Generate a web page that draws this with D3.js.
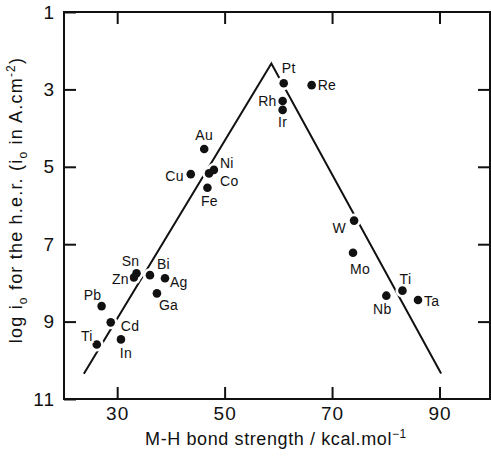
<!DOCTYPE html>
<html>
<head>
<meta charset="utf-8">
<script src="https://cdn.jsdelivr.net/npm/d3@7"></script>
<style>
  html, body { margin: 0; padding: 0; background: #fff; }
  svg { display: block; }
  text { font-family: "Liberation Sans", Arial, Helvetica, sans-serif; fill: #111; }
</style>
</head>
<body>
<svg id="chart" width="491" height="457"></svg>
<script>
// Exchange current density for hydrogen evolution vs. metal–hydrogen bond strength
const metals       = ["Pt", "Re", "Rh", "Ir", "Au", "Cu", "Ni", "Co", "Fe", "Sn", "Zn", "Bi", "Ag", "Ga", "Pb", "Cd", "Ti", "In", "W", "Mo", "Ti", "Nb", "Ta"];
const bondStrength = [61.0, 66.2, 60.8, 60.8, 46.2, 43.7, 48.0, 47.1, 46.8, 33.6, 33.1, 36.1, 38.9, 37.4, 27.1, 28.8, 26.2, 30.7, 74.1, 73.9, 83.1, 80.1, 86.0];
const logI0        = [2.84, 2.89, 3.30, 3.53, 4.54, 5.19, 5.08, 5.17, 5.54, 7.75, 7.86, 7.80, 7.88, 8.27, 8.60, 9.02, 9.59, 9.46, 6.39, 7.22, 8.20, 8.33, 8.44];

// Volcano trend line vertices
const volcanoX = [23.8, 58.7, 90.3];
const volcanoY = [10.35, 2.33, 10.34];

const xTicks = [30, 50, 70, 90];
const yTicks = [1, 3, 5, 7, 9, 11];

// Label placement per point: [anchor, dx, dy] relative to the dot centre
const labelPlacement = [
  ["middle", 5, -15], ["start", 6, 0], ["end", -6, 0], ["middle", 0, 12],
  ["middle", 0, -14], ["end", -7, 2], ["start", 6, -7], ["start", 11, 8],
  ["middle", 2, 13], ["middle", -6, -12], ["end", -5, 2], ["start", 7, -11],
  ["start", 5, 4], ["start", 2, 12], ["middle", -9, -11], ["start", 10, 4],
  ["end", -4, -8], ["middle", 5, 14], ["end", -8, 7], ["middle", 7, 16],
  ["middle", 3, -12], ["middle", -4, 13], ["start", 6, 1]
];

const svg = d3.select("#chart");
const frame = { left: 64, right: 490, top: 12, bottom: 399 };

const x = d3.scaleLinear().domain([20.1, 99.4]).range([frame.left, frame.right]);
const y = d3.scaleLinear().domain([1, 11]).range([frame.top, frame.bottom]);

const tickLen = 12;

// Bottom axis with labels, ticks pointing inward
const gx = svg.append("g")
  .attr("transform", `translate(0,${frame.bottom})`)
  .call(d3.axisBottom(x).tickValues(xTicks).tickSizeInner(-tickLen).tickSizeOuter(0).tickPadding(8));
// Left axis with labels
const gy = svg.append("g")
  .attr("transform", `translate(${frame.left},0)`)
  .call(d3.axisLeft(y).tickValues(yTicks).tickSizeInner(-tickLen).tickSizeOuter(0).tickPadding(9));
// Top and right ticks, no labels
const gt = svg.append("g")
  .attr("transform", `translate(0,${frame.top})`)
  .call(d3.axisTop(x).tickValues(xTicks).tickSizeInner(-tickLen).tickSizeOuter(0).tickFormat(""));
const gr = svg.append("g")
  .attr("transform", `translate(${frame.right},0)`)
  .call(d3.axisRight(y).tickValues(yTicks.slice(1, -1)).tickSizeInner(-tickLen).tickSizeOuter(0).tickFormat(""));

[gx, gy, gt, gr].forEach(g => {
  g.select(".domain").remove();
  g.selectAll(".tick line").attr("stroke", "#111").attr("stroke-width", 2);
  g.selectAll(".tick text")
    .attr("font-size", 19)
    .attr("letter-spacing", 1)
    .attr("fill", "#111")
    .style("font-family", "'Liberation Sans', Arial, sans-serif");
});

// Frame
svg.append("rect")
  .attr("x", frame.left).attr("y", frame.top)
  .attr("width", frame.right - frame.left).attr("height", frame.bottom - frame.top)
  .attr("fill", "none").attr("stroke", "#111").attr("stroke-width", 2);

// Volcano line
const volcano = volcanoX.map((v, i) => [v, volcanoY[i]]);
svg.append("path")
  .datum(volcano)
  .attr("d", d3.line().x(d => x(d[0])).y(d => y(d[1])))
  .attr("fill", "none")
  .attr("stroke", "#111")
  .attr("stroke-width", 2)
  .attr("stroke-linejoin", "miter");

const points = metals.map((m, i) => ({ name: m, x: bondStrength[i], y: logI0[i], place: labelPlacement[i] }));

// White halos first so that overlapping dots merge while the line is broken around them
svg.append("g").selectAll("circle")
  .data(points)
  .join("circle")
  .attr("cx", d => x(d.x))
  .attr("cy", d => y(d.y))
  .attr("r", 7)
  .attr("fill", "#fff");

svg.append("g").selectAll("circle")
  .data(points)
  .join("circle")
  .attr("cx", d => x(d.x))
  .attr("cy", d => y(d.y))
  .attr("r", 4.3)
  .attr("fill", "#111");

// Point labels
svg.append("g").selectAll("text")
  .data(points)
  .join("text")
  .attr("x", d => x(d.x) + d.place[1])
  .attr("y", d => y(d.y) + d.place[2])
  .attr("text-anchor", d => d.place[0])
  .attr("dominant-baseline", "central")
  .attr("font-size", 14)
  .attr("letter-spacing", 0.3)
  .attr("stroke", "#fff")
  .attr("stroke-width", 4)
  .attr("paint-order", "stroke")
  .text(d => d.name);

// X axis title
const xt = svg.append("text")
  .attr("x", 276)
  .attr("y", 445)
  .attr("text-anchor", "middle")
  .attr("font-size", 18)
  .attr("letter-spacing", 0.6);
xt.append("tspan").text("M-H bond strength / kcal.mol");
xt.append("tspan").attr("dy", -7).attr("font-size", 12).text("−1");

// Y axis title
const yt = svg.append("text")
  .attr("transform", "translate(22,200) rotate(-90)")
  .attr("text-anchor", "middle")
  .attr("font-size", 18)
  .attr("letter-spacing", 1.2);
yt.append("tspan").text("log i");
yt.append("tspan").attr("dy", 5).attr("font-size", 12).text("o");
yt.append("tspan").attr("dy", -5).text(" for the h.e.r. (i");
yt.append("tspan").attr("dy", 5).attr("font-size", 12).text("o");
yt.append("tspan").attr("dy", -5).text(" in A.cm");
yt.append("tspan").attr("dy", -7).attr("font-size", 12).text("-2");
yt.append("tspan").attr("dy", 7).text(")");
</script>
</body>
</html>
